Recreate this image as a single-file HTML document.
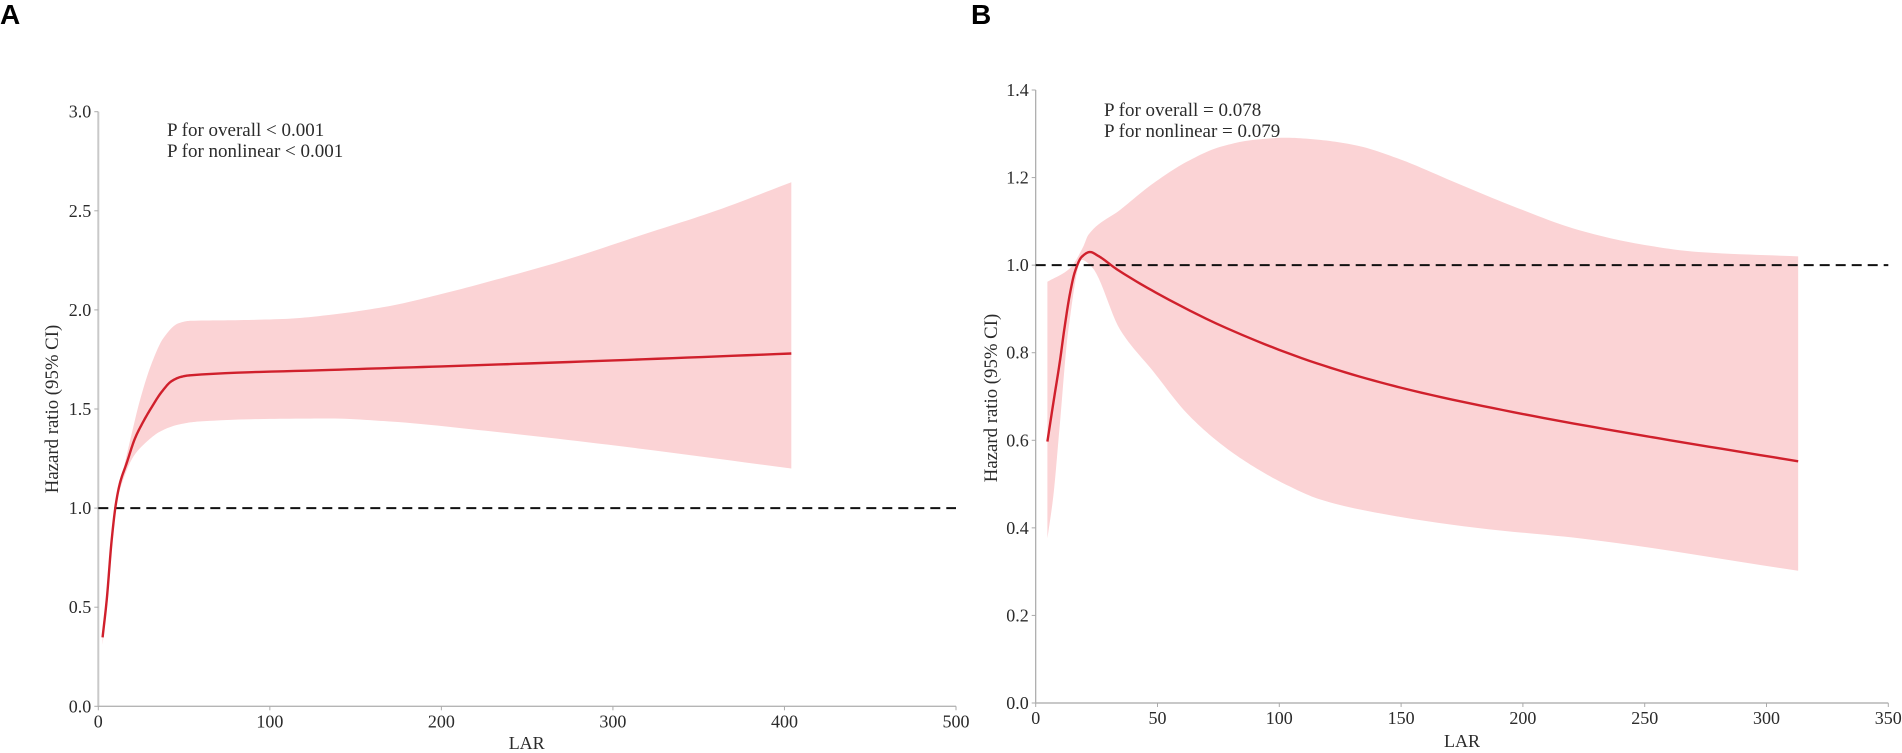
<!DOCTYPE html>
<html lang="en">
<head>
<meta charset="utf-8">
<title>Hazard ratio by LAR</title>
<style>
html,body{margin:0;padding:0;background:#fff;width:1902px;height:753px;overflow:hidden}
svg{display:block}
text{font-family:"Liberation Serif",serif;fill:#2b2b2b}
.panel{font-family:"Liberation Sans",sans-serif;font-weight:700;font-size:28px;fill:#000}
</style>
</head>
<body>
<svg id="fig" width="1902" height="753" viewBox="0 0 1902 753" xmlns="http://www.w3.org/2000/svg">
  <text class="panel" x="0" y="24">A</text>
  <text class="panel" x="971" y="24">B</text>
  <g id="chart-a"></g>
  <g id="chart-b"></g>
</svg>
<script>
// Panel A values
const aXTicks = [0, 100, 200, 300, 400, 500];
const aYTicks = ["0.0", "0.5", "1.0", "1.5", "2.0", "2.5", "3.0"];
const aLineX = [2.5, 4.9, 7.8, 10.3, 12.6, 16.5, 21.4, 26.2, 31.1, 37, 42.8, 48.6, 53.5, 135, 200, 300, 404];
const aLineY = [0.348, 0.536, 0.839, 1.024, 1.125, 1.226, 1.352, 1.436, 1.509, 1.587, 1.641, 1.663, 1.67, 1.697, 1.715, 1.745, 1.78];
const aUpperX = [2.5, 4.9, 7.8, 10.3, 13.6, 19.5, 24.3, 31.1, 37.9, 46.6, 53.5, 80, 110, 135, 170, 200, 235, 269, 319.7, 360, 404];
const aUpperY = [0.37, 0.56, 0.86, 1.04, 1.158, 1.377, 1.545, 1.73, 1.857, 1.932, 1.945, 1.948, 1.955, 1.975, 2.02, 2.08, 2.16, 2.243, 2.386, 2.5, 2.644];
const aLowerX = [2.5, 4.9, 7.8, 10.3, 13.6, 20.4, 27.2, 36, 45.7, 57.4, 100, 135, 170, 226, 297, 404];
const aLowerY = [0.31, 0.51, 0.82, 1.01, 1.12, 1.259, 1.327, 1.386, 1.419, 1.436, 1.45, 1.452, 1.437, 1.39, 1.32, 1.2];

// Panel B values
const bXTicks = [0, 50, 100, 150, 200, 250, 300, 350];
const bYTicks = ["0.0", "0.2", "0.4", "0.6", "0.8", "1.0", "1.2", "1.4"];
const bLineX = [4.8, 7.2, 10, 11.7, 14.1, 16.1, 18.9, 22.3, 25.7, 33.2, 52.4, 78.4, 115.3, 150, 200, 250, 313];
const bLineY = [0.597, 0.684, 0.783, 0.852, 0.936, 0.985, 1.019, 1.03, 1.021, 0.991, 0.928, 0.856, 0.776, 0.72, 0.66, 0.61, 0.552];
const bUpperX = [4.8, 14.1, 19.5, 21.6, 34.6, 48.3, 62, 75.7, 89.4, 103, 116.7, 132, 148, 173, 198, 223, 248, 272, 313];
const bUpperY = [0.962, 0.993, 1.042, 1.069, 1.126, 1.187, 1.236, 1.27, 1.286, 1.291, 1.286, 1.273, 1.245, 1.187, 1.13, 1.08, 1.048, 1.03, 1.02];
const bLowerX = [4.8, 7.2, 9.7, 13.4, 18.9, 23, 34.6, 48.3, 62, 75.7, 89.4, 103, 116.7, 141.4, 182.4, 223.5, 313];
const bLowerY = [0.376, 0.471, 0.623, 0.852, 1.012, 0.996, 0.853, 0.757, 0.662, 0.593, 0.54, 0.498, 0.465, 0.433, 0.399, 0.376, 0.302];

const NS = "http://www.w3.org/2000/svg";

function mk(parent, tag, attrs, txt) {
  const el = document.createElementNS(NS, tag);
  for (const k in attrs) el.setAttribute(k, attrs[k]);
  if (txt !== undefined) el.textContent = txt;
  parent.appendChild(el);
  return el;
}

// Piecewise monotone cubic through the data, returned as a dense list of [x, y]
function curve(xs, ys) {
  const n = xs.length, h = [], s = [], m = new Array(n);
  for (let i = 0; i < n - 1; i++) {
    h[i] = xs[i + 1] - xs[i];
    s[i] = (ys[i + 1] - ys[i]) / h[i];
  }
  m[0] = s[0];
  m[n - 1] = s[n - 2];
  for (let i = 1; i < n - 1; i++) {
    if (s[i - 1] * s[i] <= 0) { m[i] = 0; continue; }
    const w1 = 2 * h[i] + h[i - 1], w2 = h[i] + 2 * h[i - 1];
    m[i] = (w1 + w2) / (w1 / s[i - 1] + w2 / s[i]);
  }
  const out = [];
  for (let i = 0; i < n - 1; i++) {
    for (let j = 0; j < 12; j++) {
      const t = j / 12, t2 = t * t, t3 = t2 * t;
      const y = (2 * t3 - 3 * t2 + 1) * ys[i] + (t3 - 2 * t2 + t) * h[i] * m[i] +
                (-2 * t3 + 3 * t2) * ys[i + 1] + (t3 - t2) * h[i] * m[i + 1];
      out.push([xs[i] + t * h[i], y]);
    }
  }
  out.push([xs[n - 1], ys[n - 1]]);
  return out;
}

function toPath(points, sx, sy) {
  return points.map((p, i) => (i ? "L" : "M") + sx(p[0]).toFixed(2) + " " + sy(p[1]).toFixed(2)).join("");
}

function drawChart(cfg) {
  const g = document.getElementById(cfg.id);
  const sx = v => cfg.x0 + (v - cfg.xMin) * (cfg.x1 - cfg.x0) / (cfg.xMax - cfg.xMin);
  const sy = v => cfg.y0 + (v - cfg.yMin) * (cfg.y1 - cfg.y0) / (cfg.yMax - cfg.yMin);

  const edge = curve(cfg.upperX, cfg.upperY).concat(curve(cfg.lowerX, cfg.lowerY).reverse());
  const band = mk(g, "path", { d: toPath(edge, sx, sy) + "Z", fill: "#fbd3d5", stroke: "none" });
  
  

  const yAxis = mk(g, "line", { x1: cfg.x0, x2: cfg.x0, y1: sy(cfg.yMin), y2: sy(cfg.yMax), stroke: cfg.axisColor, "stroke-width": cfg.axisWidth });
  
  

  const xAxis = mk(g, "line", { x1: cfg.x0, x2: cfg.x1, y1: cfg.y0, y2: cfg.y0, stroke: "#b5b5b5", "stroke-width": 1.4 });
  
  

  cfg.yTicks.forEach(t => {
    const v = parseFloat(t);
    const tick = mk(g, "line", { x1: cfg.x0 - 4, x2: cfg.x0, y1: sy(v), y2: sy(v), stroke: "#aaa", "stroke-width": 1 });
    
    
    const lab = mk(g, "text", { x: cfg.x0 - 7, y: sy(v) + 6, "text-anchor": "end", "font-size": 18 }, t);
    
    
  });

  cfg.xTicks.forEach(t => {
    const tick = mk(g, "line", { x1: sx(t), x2: sx(t), y1: cfg.y0, y2: cfg.y0 + 4, stroke: "#aaa", "stroke-width": 1 });
    
    
    const lab = mk(g, "text", { x: sx(t), y: cfg.y0 + 21, "text-anchor": "middle", "font-size": 18 }, String(t));
    
    
  });

  const ref = mk(g, "line", { x1: cfg.x0, x2: cfg.x1, y1: sy(1), y2: sy(1), stroke: "#111", "stroke-width": 2, "stroke-dasharray": "10 6" });
  
  

  const line = mk(g, "path", { d: toPath(curve(cfg.lineX, cfg.lineY), sx, sy), fill: "none", stroke: "#d0202c", "stroke-width": 2.4, "stroke-linejoin": "round" });
  
  

  const xt = mk(g, "text", { x: cfg.xTitleX, y: cfg.xTitleY, "text-anchor": "middle", "font-size": 18 }, "LAR");
  
  

  const yt = mk(g, "text", { x: 0, y: 0, "text-anchor": "middle", "font-size": 18.8, transform: "translate(" + cfg.yTitleX + " " + cfg.yTitleY + ") rotate(-90)" }, "Hazard ratio (95% CI)");
  
  

  const p1 = mk(g, "text", { x: cfg.noteX, y: cfg.noteY, "font-size": 19 }, cfg.note1);
  
  
  const p2 = mk(g, "text", { x: cfg.noteX, y: cfg.noteY + 21, "font-size": 19 }, cfg.note2);
  
  
}

drawChart({
  id: "chart-a", x0: 98.3, x1: 956, y0: 706.3, y1: 111.7,
  xMin: 0, xMax: 500, yMin: 0, yMax: 3,
  axisColor: "#c9c9c9", axisWidth: 2,
  xTicks: aXTicks, yTicks: aYTicks,
  lineX: aLineX, lineY: aLineY, upperX: aUpperX, upperY: aUpperY, lowerX: aLowerX, lowerY: aLowerY,
  xTitleX: 526.7, xTitleY: 749, yTitleX: 58, yTitleY: 409,
  noteX: 167, noteY: 136, note1: "P for overall < 0.001", note2: "P for nonlinear < 0.001"
});

drawChart({
  id: "chart-b", x0: 1035.7, x1: 1888.3, y0: 703, y1: 90,
  xMin: 0, xMax: 350, yMin: 0, yMax: 1.4,
  axisColor: "#a8a8a8", axisWidth: 1.2,
  xTicks: bXTicks, yTicks: bYTicks,
  lineX: bLineX, lineY: bLineY, upperX: bUpperX, upperY: bUpperY, lowerX: bLowerX, lowerY: bLowerY,
  xTitleX: 1462, xTitleY: 747, yTitleX: 997, yTitleY: 398,
  noteX: 1104, noteY: 116, note1: "P for overall = 0.078", note2: "P for nonlinear = 0.079"
});
</script>
</body>
</html>
